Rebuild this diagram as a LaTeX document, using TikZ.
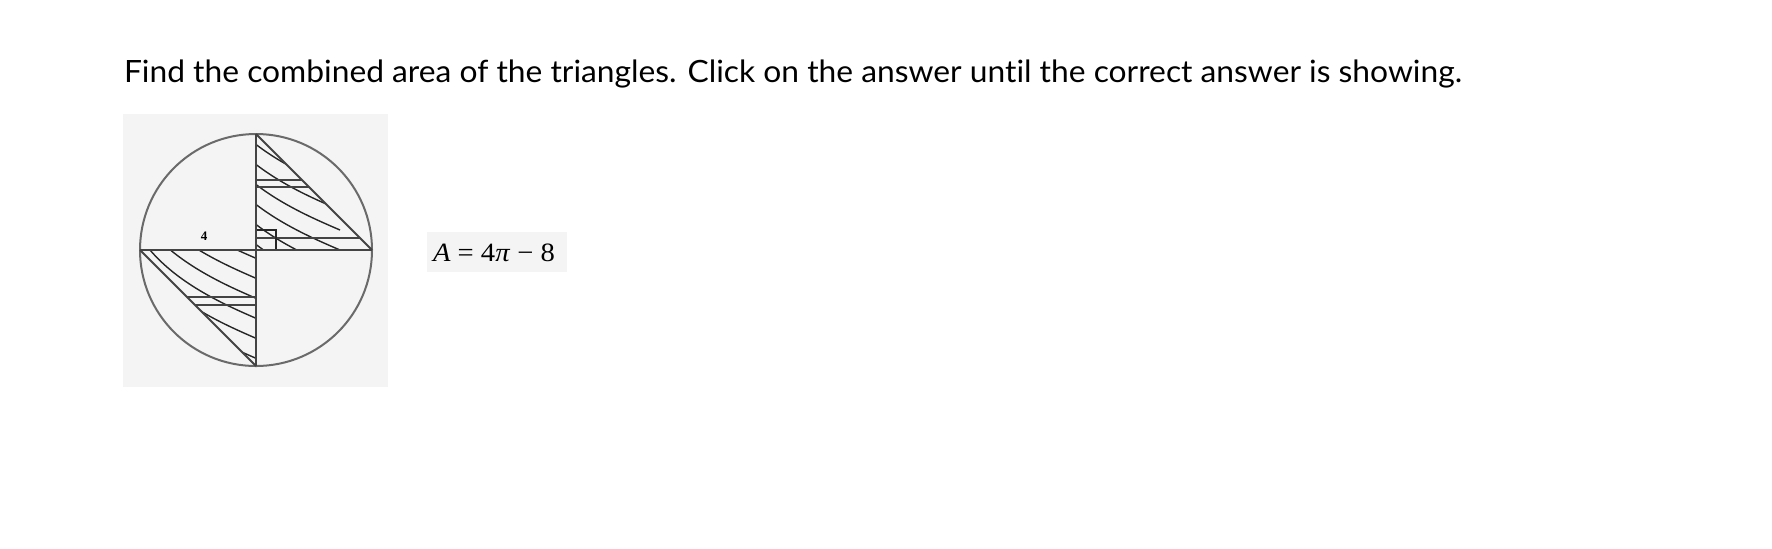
\documentclass[tikz,border=0pt]{standalone}
\usepackage{fontspec}
\setmainfont{Lato}[Ligatures={NoCommon}]
\newfontfamily\serifface{Liberation Serif}
\definecolor{boxgray}{HTML}{F4F4F4}
\definecolor{circgray}{HTML}{6A6A6A}
\definecolor{linegray}{HTML}{444444}
\definecolor{hatchgray}{HTML}{262626}
\tikzset{
  mainline/.style={draw=linegray, line width=1pt},
  circline/.style={draw=circgray, line width=1pt},
  hatchline/.style={draw=hatchgray, line width=0.7pt},
  plain/.style={inner sep=0pt, outer sep=0pt},
}
\begin{document}
\begin{tikzpicture}[x=0.5pt,y=-0.5pt]
\useasboundingbox (0,0) rectangle (1772,548);
\fill[white] (0,0) rectangle (1772,548);

% title
\node[plain, anchor=base west] (title) at (124,82)
  {\resizebox{669pt}{\height}{\fontsize{15.35}{18}\selectfont Find the combined area of the triangles. Click on the answer until the correct answer is showing.}};

% figure background
\fill[boxgray] (123,114) rectangle (388,387);

% hatching, upper right triangle
\begin{scope}
  \clip (256,134) -- (372,250) -- (256,250) -- cycle;
  \foreach \s in {60,80,...,250}
    \draw[hatchline] (230,\s) .. controls (260,{\s+35}) and (305,{\s+55}) .. (340,{\s+70});
\end{scope}
% hatching, lower left triangle
\begin{scope}
  \clip (140,250) -- (256,250) -- (256,366) -- cycle;
  \foreach \s in {170,190,...,380}
    \draw[hatchline] (150,\s) .. controls (180,{\s+35}) and (225,{\s+55}) .. (260,{\s+70});
\end{scope}

% horizontal double lines
\draw[mainline] (256,180) -- (302,180);
\draw[mainline] (256,187) -- (309,187);
\draw[mainline] (256,238) -- (360,238);
\draw[mainline] (187,297) -- (256,297);
\draw[mainline] (195,305) -- (256,305);

% right-angle mark
\draw[hatchline, line width=0.8pt] (256,230) rectangle (276,250);

% circle and main lines
\coordinate (C) at (256,250);
\coordinate (T) at (256,134);
\coordinate (B) at (256,366);
\coordinate (L) at (140,250);
\coordinate (R) at (372,250);
\draw[circline] (C) circle[radius=116];
\draw[mainline] (L) -- (R);
\draw[mainline] (T) -- (B);
\draw[mainline] (T) -- (R);
\draw[mainline] (L) -- (B);

% label 4
\node[plain] (four) at (204,236) {\serifface\bfseries\fontsize{6.5}{7}\selectfont 4};

% answer box
\fill[boxgray] (427,232) rectangle (567,272);
\node[plain, anchor=base west] (answer) at (433,261)
  {\resizebox{61pt}{\height}{\serifface\fontsize{13.2}{14}\selectfont\textit{A} = 4\textit{π} − 8}};
\end{tikzpicture}
\end{document}
